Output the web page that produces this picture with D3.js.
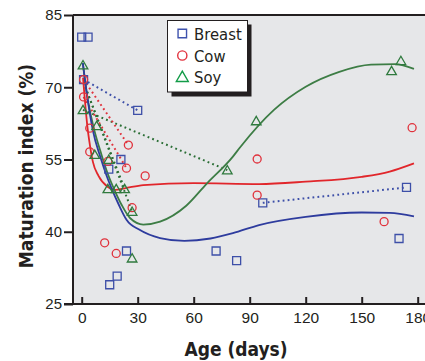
<!DOCTYPE html>
<html>
<head>
<meta charset="utf-8">
<script src="https://cdn.jsdelivr.net/npm/d3@7"></script>
<style>
  html, body { margin: 0; padding: 0; background: #fff; }
  svg { display: block; }
  text { font-family: "Liberation Sans Narrow", "Arial Narrow", "DejaVu Sans Condensed", sans-serif; fill: #231f20; }
</style>
</head>
<body>
<svg id="chart" width="425" height="361"></svg>
<script>
// ---------- data ----------
const breastPoints = [[0,80.4],[3.4,80.4],[1,71.6],[30,65.2],[21,55],[14.5,53],[24,36],[19,30.8],[15,29],[72,36],[83,34],[97,46],[174,49.2],[170,38.6]];
const cowPoints = [[1,71.6],[1,68],[4.3,61.5],[4.3,56.6],[14,54.6],[25,58],[24,53.2],[34,51.6],[27,45],[12.3,37.7],[18.5,35.5],[94,55.1],[94,47.6],[162,42.1],[177,61.6]];
const soyPoints = [[0.7,74.6],[0.7,65.3],[8,62],[7,56],[14.5,55],[14,48.9],[18.5,48.9],[23,48.9],[27,44.2],[27,34.5],[78,52.8],[93.5,63],[166,73.4],[171,75.5]];

const breastFit = [[0.6,75],[3,68],[6,61],[10,55.5],[13,52],[16,49],[20,45.5],[24,42.5],[31,40.4],[42,38.7],[55,38.1],[69,38.6],[81,39.7],[95,41.4],[120,43.1],[150,44],[165,43.9],[178,43.2]];
const cowFit = [[0.7,72],[2,66],[3,62],[4.4,58],[6,54.5],[9,51.6],[14,49.3],[18,48.7],[23,49],[33,49.7],[60,50.1],[95,49.9],[120,50.4],[150,51.4],[165,52.5],[178,54.2]];
const soyFit = [[0.6,75],[3,68],[6,62.3],[10.6,56],[14,52],[18,48.3],[21.5,45.5],[26,42.8],[33,41.5],[42,42.1],[56,45.4],[67,50],[81,55.6],[85,57.6],[103,65.3],[120,70.1],[138,73.2],[155,74.7],[168,74.8],[178,73.8]];

const breastPairs = [[[1,71.6],[30,65.2]], [[97,46],[174,49.2]]];
const cowPairs = [[[1,71.6],[25,58]], [[1,68],[24,53.2]]];
const soyPairs = [[[0.7,65.3],[78,52.8]], [[1,71],[23,48.9]], [[1,71],[27,44.2]]];

const xTicks = [0,30,60,90,120,150,180];
const yTicks = [25,40,55,70,85];
const legendLabels = ["Breast","Cow","Soy"];

// ---------- drawing ----------
const svg = d3.select("#chart");
const x = d3.scaleLinear().domain([0,180]).range([81.7,417.7]);
const y = d3.scaleLinear().domain([25,85]).range([304,15]);
const plotLeft = 73, plotRight = 426, plotTop = 15, plotBottom = 304;

const col = { blue: "#3d4fa8", red: "#e0323c", green: "#2f7a3e", blueLine: "#2e3c9e", redLine: "#e1262b", greenLine: "#3d7d45" };

svg.append("rect").attr("x", plotLeft).attr("y", plotTop)
  .attr("width", plotRight - plotLeft).attr("height", plotBottom - plotTop)
  .attr("fill", "#e6e7e9");

const clip = svg.append("clipPath").attr("id","clip").append("rect")
  .attr("x", plotLeft).attr("y", plotTop).attr("width", plotRight-plotLeft).attr("height", plotBottom-plotTop);
const plot = svg.append("g").attr("clip-path","url(#clip)");

// dotted pair lines
const pairLine = d3.line().x(d => x(d[0])).y(d => y(d[1]));
function drawPairs(pairs, color) {
  plot.selectAll(null).data(pairs).enter().append("path")
    .attr("d", pairLine).attr("fill","none").attr("stroke", color)
    .attr("stroke-width", 2).attr("stroke-dasharray", "1.8,3.2");
}
drawPairs(soyPairs, "#2a6e35");
drawPairs(cowPairs, col.red);
drawPairs(breastPairs, col.blue);

// fitted curves
const fitLine = d3.line().x(d => x(d[0])).y(d => y(d[1])).curve(d3.curveMonotoneX);
plot.append("path").attr("d", fitLine(cowFit)).attr("fill","none").attr("stroke", col.redLine).attr("stroke-width",1.8);
plot.append("path").attr("d", fitLine(soyFit)).attr("fill","none").attr("stroke", col.greenLine).attr("stroke-width",1.8);
plot.append("path").attr("d", fitLine(breastFit)).attr("fill","none").attr("stroke", col.blueLine).attr("stroke-width",1.8);

// markers
const sq = d3.symbol().type(d3.symbolSquare).size(64);
const tri = d3.symbol().type(d3.symbolTriangle).size(40);
plot.selectAll(null).data(breastPoints).enter().append("path")
  .attr("d", sq).attr("transform", d => `translate(${x(d[0])},${y(d[1])})`)
  .attr("fill","none").attr("stroke", col.blue).attr("stroke-width",1.3);
plot.selectAll(null).data(cowPoints).enter().append("circle")
  .attr("cx", d => x(d[0])).attr("cy", d => y(d[1])).attr("r", 4)
  .attr("fill","none").attr("stroke", col.red).attr("stroke-width",1.3);
plot.selectAll(null).data(soyPoints).enter().append("path")
  .attr("d", tri).attr("transform", d => `translate(${x(d[0])},${y(d[1])+1})`)
  .attr("fill","none").attr("stroke", col.green).attr("stroke-width",1.3);

// axes frame lines
svg.append("line").attr("x1", plotLeft).attr("x2", plotRight).attr("y1", plotTop).attr("y2", plotTop)
  .attr("stroke","#231f20").attr("stroke-width",2);
svg.append("line").attr("x1", plotLeft).attr("x2", plotLeft).attr("y1", plotTop).attr("y2", plotBottom)
  .attr("stroke","#231f20").attr("stroke-width",2);
svg.append("line").attr("x1", 64).attr("x2", plotRight).attr("y1", plotBottom).attr("y2", plotBottom)
  .attr("stroke","#231f20").attr("stroke-width",2);

// y axis
const yAxis = svg.append("g").attr("transform", `translate(${plotLeft},0)`)
  .call(d3.axisLeft(y).tickValues(yTicks).tickSize(9).tickPadding(2));
yAxis.select(".domain").remove();
yAxis.selectAll(".tick line").attr("stroke","#231f20").attr("stroke-width",2);
yAxis.selectAll(".tick text").attr("font-size", 15).attr("fill","#231f20")
  .style("font-family", '"Liberation Sans Narrow", "Arial Narrow", sans-serif');

// x axis
const xAxis = svg.append("g").attr("transform", `translate(0,${plotBottom})`)
  .call(d3.axisBottom(x).tickValues(xTicks).tickSizeInner(-7).tickSizeOuter(0).tickPadding(8));
xAxis.select(".domain").remove();
xAxis.selectAll(".tick line").attr("stroke","#231f20").attr("stroke-width",2);
xAxis.selectAll(".tick text").attr("font-size", 15.5).attr("fill","#231f20")
  .style("font-family", '"Liberation Sans Narrow", "Arial Narrow", sans-serif');

// axis titles
svg.append("text").attr("x", 236).attr("y", 356).attr("text-anchor","middle")
  .attr("font-size", 19).attr("font-weight","bold").text("Age (days)");
svg.append("text").attr("transform","translate(33,166) rotate(-90)").attr("text-anchor","middle")
  .attr("font-size", 19).attr("font-weight","bold").text("Maturation index (%)");

// legend
const lg = svg.append("g");
lg.append("rect").attr("x", 171.5).attr("y", 24.5).attr("width", 80).attr("height", 72).attr("fill","#231f20");
lg.append("rect").attr("x", 167.5).attr("y", 20.5).attr("width", 80).attr("height", 71.5)
  .attr("fill","#fff").attr("stroke","#231f20").attr("stroke-width",1);
const legRows = [33.5, 55.5, 77];
lg.append("path").attr("d", d3.symbol().type(d3.symbolSquare).size(72)())
  .attr("transform", `translate(182.3,${legRows[0]})`).attr("fill","none").attr("stroke","#3f52ad").attr("stroke-width",1.4);
lg.append("circle").attr("cx",182.3).attr("cy",legRows[1]).attr("r",4.6)
  .attr("fill","none").attr("stroke","#e2323e").attr("stroke-width",1.4);
lg.append("path").attr("d", d3.symbol().type(d3.symbolTriangle).size(62)())
  .attr("transform", `translate(182.3,${legRows[2]+1})`).attr("fill","none").attr("stroke","#139c48").attr("stroke-width",1.4);
lg.selectAll(null).data(legendLabels).enter().append("text")
  .attr("x", 194).attr("y", (d,i) => legRows[i] + 6).attr("font-size", 16.5).text(d => d);
</script>
</body>
</html>
